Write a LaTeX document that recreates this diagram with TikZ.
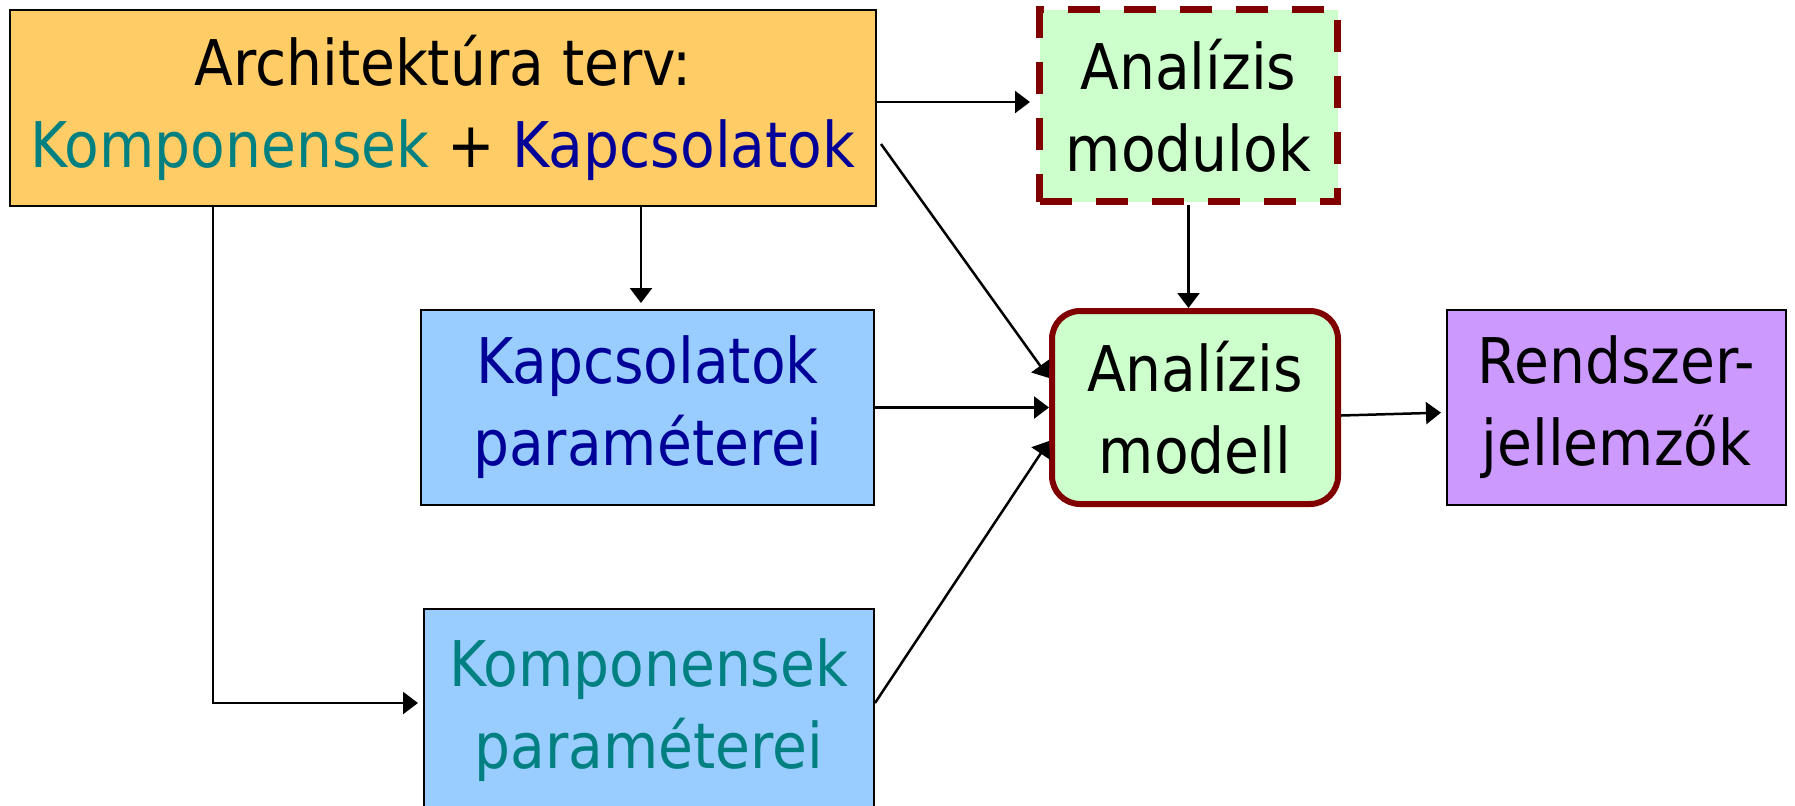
\documentclass[tikz,border=0pt]{standalone}
\usepackage{fontspec}
\setmainfont{DejaVu Sans Condensed}
\usetikzlibrary{arrows.meta}
\definecolor{orangefill}{HTML}{FFCC66}
\definecolor{greenfill}{HTML}{CCFFCC}
\definecolor{bluefill}{HTML}{99CCFF}
\definecolor{purplefill}{HTML}{CC99FF}
\definecolor{tealtext}{HTML}{008080}
\definecolor{navytext}{HTML}{000099}
\definecolor{darkred}{HTML}{800000}
\begin{document}
\begin{tikzpicture}[x=0.5pt,y=-0.5pt,
  box/.style={draw=black,line width=1pt,align=center,inner sep=0pt,font=\fontsize{31.5}{41}\selectfont},
  arr/.style={line width=1.25pt,-{Triangle[length=7.5pt,width=11pt]}}]
\useasboundingbox[fill=white] (0,0) rectangle (1795,805);
\node[box,fill=orangefill,minimum width=433pt,minimum height=98pt] (A) at (443,108)
  {Architektúra terv:\\{\color{tealtext}Komponensek} + {\color{navytext}Kapcsolatok}};
\node[box,draw=darkred,line width=3.5pt,dash pattern=on 16pt off 12pt,fill=greenfill,minimum width=149pt,minimum height=96pt] (M) at (1188.5,105.5)
  {Analízis\\modulok};
\node[box,draw=darkred,line width=3pt,rounded corners=14pt,fill=greenfill,minimum width=143pt,minimum height=96.5pt] (AM) at (1195,407.5)
  {Analízis\\modell};
\node[box,fill=bluefill,minimum width=226.5pt,minimum height=97.5pt,text=navytext] (KP) at (647.5,407.5)
  {Kapcsolatok\\paraméterei};
\node[box,fill=purplefill,minimum width=169.5pt,minimum height=97.5pt] (R) at (1616.5,407.5)
  {Rendszer-\\jellemzők};
\node[box,fill=bluefill,minimum width=225pt,minimum height=101pt,text=tealtext] (CP) at (649,710)
  {Komponensek\\paraméterei};
% connectors
\draw[arr,shorten >=3pt] ([yshift=3pt]A.east) -- ([yshift=3pt]A.east -| M.west);
\draw[arr,shorten >=3pt] ([xshift=-3.25pt]KP.north |- A.south) -- ([xshift=-3.25pt]KP.north);
\draw[arr] ([xshift=2pt,yshift=-18pt]A.east) -- ([yshift=14.75pt]AM.west);
\draw[arr] (KP.east) -- (AM.west);
\draw[arr] ([yshift=3.5pt]CP.east) -- ([yshift=-16.75pt]AM.west);
\draw[arr,shorten >=2.5pt] ([xshift=-115pt]A.south) |- ([yshift=3.5pt]CP.west);
\draw[arr] (M.south) -- (M.south |- AM.north);
\draw[arr,shorten >=2.5pt] ([yshift=-4pt]AM.east) -- ([yshift=-2.5pt]R.west);
\end{tikzpicture}
\end{document}
